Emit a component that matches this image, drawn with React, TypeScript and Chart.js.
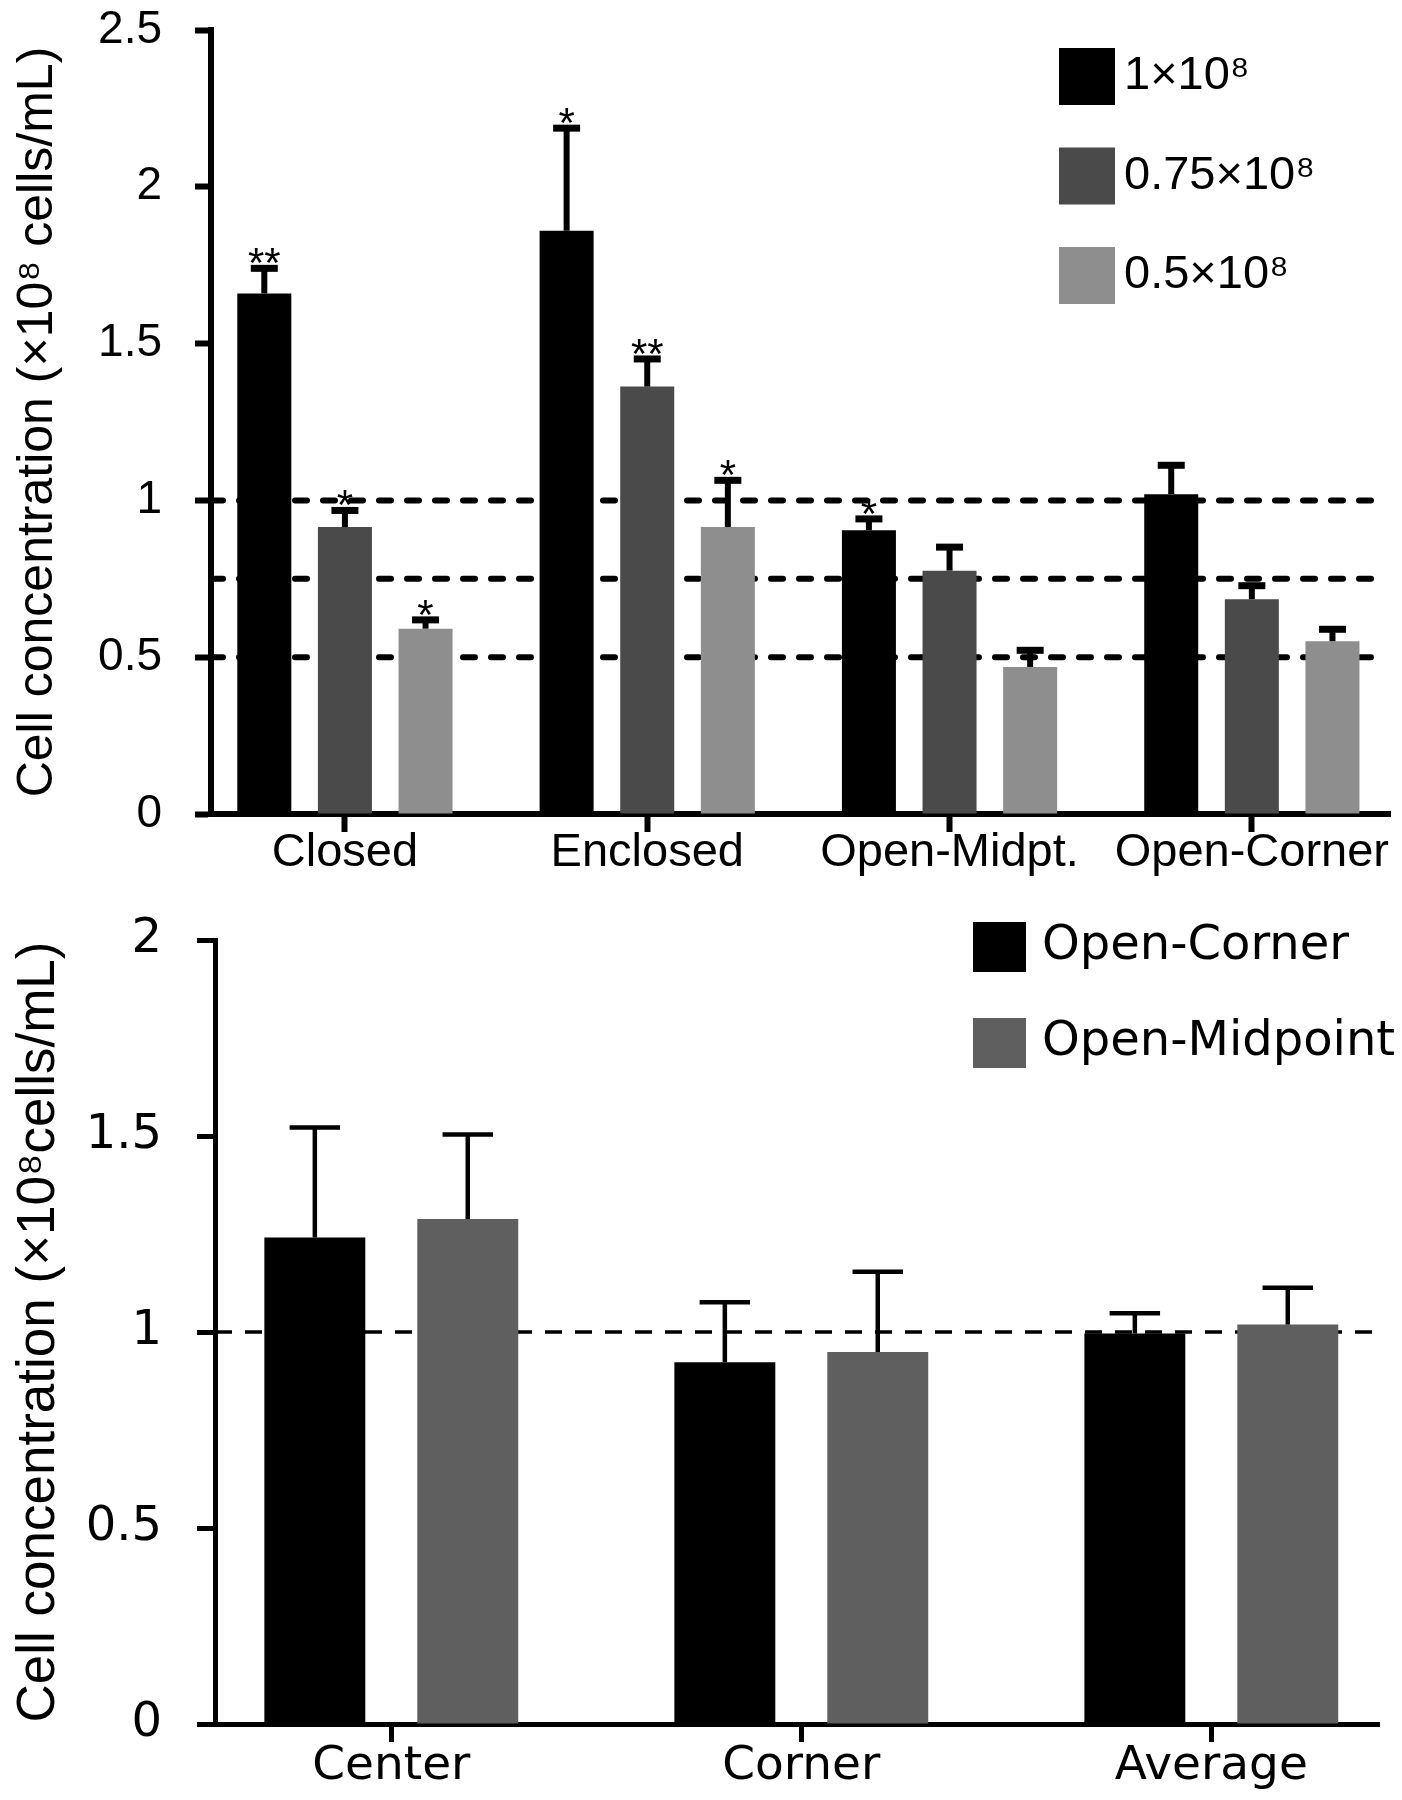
import React, { useEffect, useRef } from 'react';
import { Chart, registerables } from 'chart.js';

Chart.register(...registerables);

// ---------------- data: top panel ----------------
const topCategories = ['Closed', 'Enclosed', 'Open-Midpt.', 'Open-Corner'];
const topSeriesLabels = ['1×10⁸', '0.75×10⁸', '0.5×10⁸'];
const topHigh = [1.66, 1.86, 0.905, 1.02];
const topMid = [0.915, 1.363, 0.776, 0.685];
const topLow = [0.591, 0.915, 0.469, 0.551];
const topHighErr = [0.08, 0.327, 0.036, 0.092];
const topMidErr = [0.053, 0.088, 0.075, 0.043];
const topLowErr = [0.028, 0.149, 0.053, 0.038];
const topHighSig = ['**', '*', '*', ''];
const topMidSig = ['*', '**', '', ''];
const topLowSig = ['*', '*', '', ''];
const topRefLevels = [1, 0.75, 0.5];
const topYTitle = 'Cell concentration (×10⁸ cells/mL)';

// ---------------- data: bottom panel ----------------
const bottomCategories = ['Center', 'Corner', 'Average'];
const bottomSeriesLabels = ['Open-Corner', 'Open-Midpoint'];
const bottomCorner = [1.241, 0.923, 0.996];
const bottomMidpoint = [1.288, 0.949, 1.019];
const bottomCornerErr = [0.281, 0.153, 0.052];
const bottomMidpointErr = [0.216, 0.205, 0.094];
const bottomRefLevels = [1];
const bottomYTitle = 'Cell concentration (×10⁸cells/mL)';

const SANS = "'Liberation Sans', Arial, sans-serif";
const WIDE = "'DejaVu Sans', Verdana, sans-serif";

function toPoints(values: number[]) {
  return values.map((v, i) => ({ x: i, y: v }));
}

function refLinePlugin(levels: number[], cfg: any) {
  return {
    id: 'refLines',
    beforeDatasetsDraw(chart: any) {
      const { ctx, chartArea } = chart;
      const y = chart.scales.y;
      ctx.save();
      ctx.strokeStyle = '#000';
      ctx.lineWidth = cfg.width;
      ctx.lineCap = cfg.cap;
      ctx.setLineDash(cfg.dash);
      levels.forEach((lv) => {
        const py = y.getPixelForValue(lv);
        ctx.beginPath();
        ctx.moveTo(chartArea.left + cfg.startInset, py);
        ctx.lineTo(chartArea.right - cfg.endInset, py);
        ctx.stroke();
      });
      ctx.restore();
    },
  };
}

function errorBarPlugin(cfg: any) {
  return {
    id: 'errorBars',
    afterDatasetsDraw(chart: any) {
      const ctx = chart.ctx;
      const y = chart.scales.y;
      chart.data.datasets.forEach((ds: any, i: number) => {
        const meta = chart.getDatasetMeta(i);
        const errs = ds.errors || [];
        const sig = ds.sig || [];
        meta.data.forEach((el: any, j: number) => {
          const e = errs[j];
          if (e == null) return;
          const v = ds.data[j].y;
          const top = y.getPixelForValue(v + e);
          ctx.save();
          ctx.strokeStyle = '#000';
          ctx.lineCap = 'butt';
          ctx.lineWidth = cfg.stemWidth;
          ctx.beginPath();
          ctx.moveTo(el.x, el.y);
          ctx.lineTo(el.x, top);
          ctx.stroke();
          ctx.lineWidth = cfg.capThickness;
          const hw = (el.width * cfg.capRatio) / 2;
          ctx.beginPath();
          ctx.moveTo(el.x - hw, top);
          ctx.lineTo(el.x + hw, top);
          ctx.stroke();
          if (sig[j]) {
            ctx.fillStyle = '#000';
            ctx.font = cfg.sigFont;
            ctx.textAlign = 'center';
            ctx.textBaseline = 'alphabetic';
            ctx.fillText(sig[j], el.x, top + cfg.sigOffset);
          }
          ctx.restore();
        });
      });
    },
  };
}

function legendPlugin(cfg: any) {
  return {
    id: 'boxLegend',
    afterDraw(chart: any) {
      const ctx = chart.ctx;
      ctx.save();
      chart.data.datasets.forEach((ds: any, i: number) => {
        const top = cfg.top + i * cfg.spacing;
        ctx.fillStyle = ds.backgroundColor;
        ctx.fillRect(cfg.x, top, cfg.boxW, cfg.boxH);
        ctx.fillStyle = '#000';
        ctx.font = cfg.font;
        ctx.textAlign = 'left';
        ctx.textBaseline = 'middle';
        ctx.fillText(ds.label, cfg.x + cfg.boxW + cfg.gap, top + cfg.boxH / 2 + cfg.textDy);
      });
      ctx.restore();
    },
  };
}

const plainNumber = (v: any) => `${Number(v)}`;

function TopChart() {
  const ref = useRef<HTMLCanvasElement | null>(null);
  useEffect(() => {
    if (!ref.current) return;
    const chart = new Chart(ref.current, {
      type: 'bar',
      data: {
        datasets: [
          { label: topSeriesLabels[0], data: toPoints(topHigh), backgroundColor: '#000000', errors: topHighErr, sig: topHighSig },
          { label: topSeriesLabels[1], data: toPoints(topMid), backgroundColor: '#4a4a4a', errors: topMidErr, sig: topMidSig },
          { label: topSeriesLabels[2], data: toPoints(topLow), backgroundColor: '#8e8e8e', errors: topLowErr, sig: topLowSig },
        ] as any,
      },
      options: {
        responsive: false,
        animation: false,
        events: [],
        layout: { padding: { left: 4, top: 30, right: 12, bottom: 0 } },
        datasets: { bar: { categoryPercentage: 0.8, barPercentage: 0.67 } },
        plugins: { legend: { display: false }, tooltip: { enabled: false } },
        scales: {
          x: {
            type: 'linear',
            min: -0.443,
            max: 3.457,
            offset: false,
            afterFit: (s: any) => { s.height = 66; },
            grid: { display: true, drawOnChartArea: false, drawTicks: true, tickLength: 18, tickWidth: 6, tickColor: '#000', offset: false },
            border: { display: true, color: '#000', width: 6 },
            ticks: {
              stepSize: 1,
              includeBounds: false,
              autoSkip: false,
              maxRotation: 0,
              padding: -2,
              color: '#000',
              font: { family: SANS, size: 47, lineHeight: 1 },
              callback: (v: any) => topCategories[v] ?? '',
            },
          },
          y: {
            min: 0,
            max: 2.5,
            afterFit: (s: any) => { s.width = 207; s.paddingTop = 0; s.paddingBottom = 0; },
            grid: { display: true, drawOnChartArea: false, drawTicks: true, tickLength: 16, tickWidth: 6, tickColor: '#000' },
            border: { display: true, color: '#000', width: 6 },
            ticks: { stepSize: 0.5, padding: 33, color: '#000', font: { family: SANS, size: 46 }, callback: plainNumber },
            title: { display: true, text: topYTitle, color: '#000', font: { family: SANS, size: 50 }, padding: { top: 4, bottom: 4 } },
          },
        },
      } as any,
      plugins: [
        refLinePlugin(topRefLevels, { width: 6, cap: 'round', dash: [12, 16], startInset: 0, endInset: 18 }),
        errorBarPlugin({ stemWidth: 6, capThickness: 7, capRatio: 0.5, sigFont: `42px ${SANS}`, sigOffset: 9 }),
        legendPlugin({ x: 1059, top: 48, spacing: 99.5, boxW: 56, boxH: 57, gap: 9, textDy: 0, font: `47px ${SANS}` }),
      ],
    });
    return () => chart.destroy();
  }, []);
  return <canvas ref={ref} width={1402} height={880} style={{ display: 'block', width: 1402, height: 880 }} />;
}

function BottomChart() {
  const ref = useRef<HTMLCanvasElement | null>(null);
  useEffect(() => {
    if (!ref.current) return;
    const chart = new Chart(ref.current, {
      type: 'bar',
      data: {
        datasets: [
          { label: bottomSeriesLabels[0], data: toPoints(bottomCorner), backgroundColor: '#000000', errors: bottomCornerErr },
          { label: bottomSeriesLabels[1], data: toPoints(bottomMidpoint), backgroundColor: '#5f5f5f', errors: bottomMidpointErr },
        ] as any,
      },
      options: {
        responsive: false,
        animation: false,
        events: [],
        layout: { padding: { left: 4, top: 60, right: 23, bottom: 0 } },
        datasets: { bar: { categoryPercentage: 0.746, barPercentage: 0.66 } },
        plugins: { legend: { display: false }, tooltip: { enabled: false } },
        scales: {
          x: {
            type: 'linear',
            min: -0.43,
            max: 2.409,
            offset: false,
            afterFit: (s: any) => { s.height = 76; },
            grid: { display: true, drawOnChartArea: false, drawTicks: true, tickLength: 18, tickWidth: 5, tickColor: '#000', offset: false },
            border: { display: true, color: '#000', width: 5 },
            ticks: {
              stepSize: 1,
              includeBounds: false,
              autoSkip: false,
              maxRotation: 0,
              padding: 1,
              color: '#000',
              font: { family: WIDE, size: 47, lineHeight: 1 },
              callback: (v: any) => bottomCategories[v] ?? '',
            },
          },
          y: {
            min: 0,
            max: 2,
            afterFit: (s: any) => { s.width = 211; s.paddingTop = 0; s.paddingBottom = 0; },
            grid: { display: true, drawOnChartArea: false, drawTicks: true, tickLength: 18, tickWidth: 5, tickColor: '#000' },
            border: { display: true, color: '#000', width: 5 },
            ticks: { stepSize: 0.5, padding: 35, color: '#000', font: { family: WIDE, size: 48 }, callback: plainNumber },
            title: { display: true, text: bottomYTitle, color: '#000', font: { family: SANS, size: 53 }, padding: { top: 4, bottom: 4 } },
          },
        },
      } as any,
      plugins: [
        refLinePlugin(bottomRefLevels, { width: 3.5, cap: 'butt', dash: [17, 13], startInset: 0, endInset: 6 }),
        errorBarPlugin({ stemWidth: 4.5, capThickness: 4.5, capRatio: 0.5, sigFont: `42px ${SANS}`, sigOffset: 9 }),
        legendPlugin({ x: 973, top: 42, spacing: 96, boxW: 53, boxH: 50, gap: 16, textDy: 0, font: `48px ${WIDE}` }),
      ],
    });
    return () => chart.destroy();
  }, []);
  return <canvas ref={ref} width={1402} height={920} style={{ display: 'block', width: 1402, height: 920 }} />;
}

export default function App() {
  useEffect(() => {
    document.body.style.margin = '0';
    document.body.style.background = '#ffffff';
  }, []);
  return (
    <div style={{ width: 1402, height: 1800, background: '#fff', overflow: 'hidden' }}>
      <TopChart />
      <BottomChart />
    </div>
  );
}
